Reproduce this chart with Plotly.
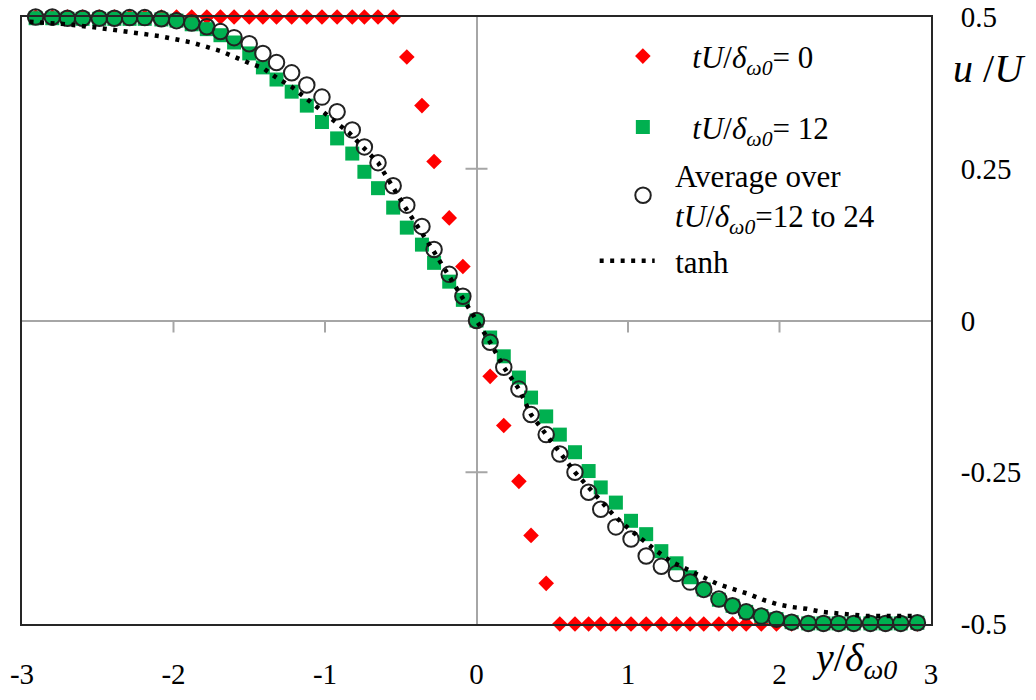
import plotly.graph_objects as go

# abscissa y/delta_w0 (same grid for the three data series)
pos = [-2.91, -2.80, -2.70, -2.60, -2.49, -2.39, -2.29, -2.19, -2.08, -1.98,
       -1.88, -1.78, -1.69, -1.60, -1.50, -1.41, -1.32, -1.22, -1.12, -1.02,
       -0.92, -0.82, -0.74, -0.65, -0.55, -0.46, -0.36, -0.28, -0.18, -0.09,
       0.00,
       0.09, 0.18, 0.28, 0.36, 0.46, 0.55, 0.65, 0.74, 0.82, 0.92,
       1.02, 1.12, 1.22, 1.32, 1.41, 1.50, 1.60, 1.69, 1.78, 1.88,
       1.98, 2.08, 2.19, 2.29, 2.39, 2.49, 2.60, 2.70, 2.80, 2.91]

# tU/delta = 0
u_t0 = [0.500, 0.500, 0.500, 0.500, 0.500, 0.500, 0.500, 0.500, 0.500, 0.500,
        0.500, 0.500, 0.500, 0.500, 0.500, 0.500, 0.500, 0.500, 0.500, 0.500,
        0.500, 0.500, 0.500, 0.500, 0.500, 0.434, 0.354, 0.262, 0.169, 0.089,
        0.000,
        -0.092, -0.173, -0.265, -0.354, -0.433, -0.500, -0.500, -0.500, -0.500, -0.500,
        -0.500, -0.500, -0.500, -0.500, -0.500, -0.500, -0.500, -0.500, -0.500, -0.500,
        -0.500, -0.500, -0.500, -0.500, -0.500, -0.500, -0.500, -0.500, -0.500, -0.500]

# tU/delta = 12
u_t12 = [0.498, 0.498, 0.497, 0.497, 0.497, 0.497, 0.497, 0.497, 0.496, 0.494,
         0.488, 0.480, 0.470, 0.458, 0.440, 0.417, 0.397, 0.377, 0.354, 0.327,
         0.300, 0.275, 0.245, 0.218, 0.186, 0.153, 0.125, 0.095, 0.064, 0.034,
         0.000,
         -0.028, -0.059, -0.094, -0.127, -0.158, -0.188, -0.217, -0.248, -0.275, -0.300,
         -0.330, -0.352, -0.380, -0.400, -0.423, -0.443, -0.460, -0.470, -0.480, -0.487,
         -0.492, -0.497, -0.499, -0.499, -0.499, -0.499, -0.499, -0.499, -0.499, -0.498]

# average over tU/delta = 12 to 24
u_avg = [0.500, 0.500, 0.498, 0.498, 0.498, 0.498, 0.499, 0.499, 0.497, 0.494,
         0.490, 0.484, 0.476, 0.466, 0.456, 0.440, 0.425, 0.408, 0.388, 0.368,
         0.344, 0.314, 0.286, 0.260, 0.222, 0.190, 0.155, 0.117, 0.076, 0.040,
         0.000,
         -0.036, -0.077, -0.113, -0.155, -0.188, -0.220, -0.250, -0.283, -0.311, -0.340,
         -0.360, -0.388, -0.405, -0.417, -0.431, -0.443, -0.459, -0.470, -0.480, -0.487,
         -0.492, -0.497, -0.499, -0.499, -0.499, -0.499, -0.499, -0.499, -0.499, -0.498]

# tanh profile (dotted line)
tanh_x = [-2.95, -2.70, -2.49, -2.29, -2.08, -1.88, -1.69, -1.50, -1.41, -1.32,
          -1.22, -1.03, -0.84, -0.65, -0.47, -0.29, -0.10, 0.00, 0.09, 0.18,
          0.28, 0.36, 0.46, 0.55, 0.65, 0.74, 0.82, 0.91, 1.01, 1.10,
          1.19, 1.29, 1.39, 1.49, 1.59, 1.69, 1.79, 1.89, 1.98, 2.08,
          2.18, 2.28, 2.38, 2.48, 2.58, 2.91]
tanh_u = [0.492, 0.488, 0.482, 0.475, 0.468, 0.458, 0.444, 0.424, 0.416, 0.400,
          0.385, 0.347, 0.309, 0.260, 0.186, 0.117, 0.038, 0.000, -0.036, -0.077,
          -0.113, -0.155, -0.188, -0.217, -0.250, -0.275, -0.297, -0.322, -0.344, -0.363,
          -0.380, -0.398, -0.410, -0.421, -0.434, -0.442, -0.450, -0.460, -0.467, -0.472,
          -0.475, -0.480, -0.482, -0.484, -0.487, -0.487]

x_ticks = [-3, -2, -1, 0, 1, 2, 3]
x_tick_text = ["-3", "-2", "-1", "0", "1", "2", "3"]
y_ticks = [-0.5, -0.25, 0, 0.25, 0.5]
y_tick_text = ["-0.5", "-0.25", "0", "0.25", "0.5"]
x_minor = [-2, -1, 1, 2]
y_minor = [-0.25, 0.25]

SERIF = "Liberation Serif, Times New Roman, serif"
DELTA = "<i>tU</i>/<i>δ<sub>ω0</sub></i>"
NB = "\u00a0"
INDENT = NB * 3 + "\u2009"

fig = go.Figure()

fig.add_trace(go.Scatter(
    x=pos, y=u_t0, mode="markers", name=INDENT + DELTA + "= 0",
    marker=dict(symbol="diamond", size=12, color="#ff0000", line=dict(width=0)),
    cliponaxis=False, legend="legend",
))
fig.add_trace(go.Scatter(
    x=pos, y=u_t12, mode="markers", name=INDENT + DELTA + "= 12",
    marker=dict(symbol="square", size=14, color="#00b050", line=dict(width=0)),
    cliponaxis=False, legend="legend2",
))
fig.add_trace(go.Scatter(
    x=pos, y=u_avg, mode="markers",
    name="Average over<br>" + DELTA + "=12 to 24",
    marker=dict(symbol="circle-open", size=15.5, color="#222222", line=dict(width=2)),
    cliponaxis=False, legend="legend3",
))
fig.add_trace(go.Scatter(
    x=tanh_x, y=tanh_u, mode="lines", name=NB * 2 + "tanh",
    line=dict(color="#000000", width=4.5, dash="4px,6.5px"),
    cliponaxis=False, legend="legend4",
))

shapes = []
for t in x_minor:
    shapes.append(dict(type="line", xref="x", yref="y", x0=t, x1=t,
                       ysizemode="pixel", yanchor=0, y0=0, y1=-12,
                       line=dict(color="#a6a6a6", width=2), layer="below"))
for t in y_minor:
    shapes.append(dict(type="line", xref="x", yref="y", y0=t, y1=t,
                       xsizemode="pixel", xanchor=0, x0=-11, x1=11,
                       line=dict(color="#a6a6a6", width=2), layer="below"))


def leg(x, y, w=30):
    return dict(x=x, y=y, xanchor="left", yanchor="middle", xref="paper", yref="paper",
                bgcolor="rgba(0,0,0,0)", borderwidth=0, itemwidth=w,
                font=dict(family=SERIF, size=31, color="#000000"))


fig.update_layout(
    width=1036, height=700,
    margin=dict(l=22, r=105, t=17, b=76),
    paper_bgcolor="white", plot_bgcolor="white",
    font=dict(family=SERIF, size=29, color="#000000"),
    showlegend=True,
    legend=leg(0.661, 0.935),
    legend2=leg(0.661, 0.818),
    legend3=leg(0.648, 0.706, 54),
    legend4=leg(0.630, 0.598, 55),
    xaxis=dict(
        range=[-3, 3], tickvals=x_ticks, ticktext=x_tick_text, automargin=False,
        showgrid=False, zeroline=True, zerolinecolor="#a6a6a6", zerolinewidth=2,
        showline=True, mirror=True, linecolor="#262626", linewidth=2,
        ticks="", ticklabelstandoff=23, ticklabeloverflow="allow",
        tickfont=dict(family=SERIF, size=29),
    ),
    yaxis=dict(
        range=[-0.5, 0.5], tickvals=y_ticks, ticktext=y_tick_text, side="right",
        automargin=False,
        showgrid=False, zeroline=True, zerolinecolor="#a6a6a6", zerolinewidth=2,
        showline=True, mirror=True, linecolor="#262626", linewidth=2,
        ticks="", ticklabelstandoff=22, ticklabeloverflow="allow",
        tickfont=dict(family=SERIF, size=29),
    ),
    shapes=shapes,
    annotations=[
        dict(text="<i>u</i> /<i>U</i>", xref="paper", yref="paper", x=1.064, y=0.915,
             xanchor="center", yanchor="middle",
             showarrow=False, font=dict(family=SERIF, size=40)),
        dict(text="<i>y</i>/<i>δ<sub>ω0</sub></i>", xref="paper", yref="paper",
             x=0.916, y=-0.06, xanchor="center", yanchor="middle",
             showarrow=False, font=dict(family=SERIF, size=40)),
    ],
)

# drop the default 8px page margin so the figure fills the window exactly
fig.write_html("out.html", config={"displayModeBar": False},
               post_script="document.body.style.margin='0';")
